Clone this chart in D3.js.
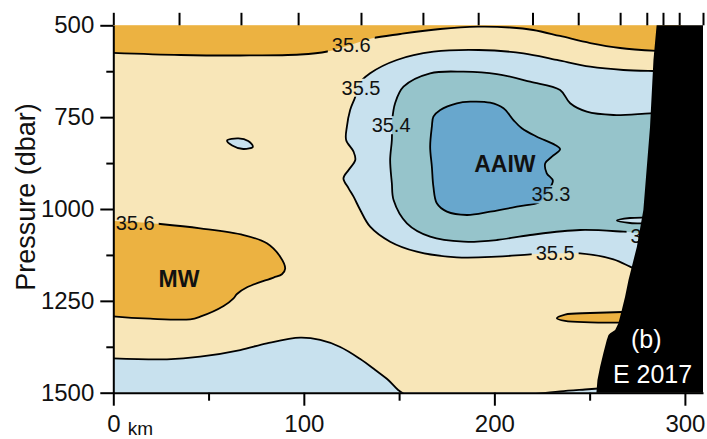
<!DOCTYPE html>
<html><head><meta charset="utf-8">
<script src="https://cdn.jsdelivr.net/npm/d3@7/dist/d3.min.js"></script>
<style>
body{margin:0;background:#fff}
text{font-family:"Liberation Sans",Arial,Helvetica,sans-serif}
</style>
</head><body>
<svg id="c" width="707" height="439"></svg>
<script>
// ---------- data (distance km, pressure dbar) ----------
const xDomain = [0, 309.5];
const pDomain = [500, 1500];
const xTicks = [0, 100, 200, 300];
const xMinorTicks = [50, 150, 250];
const pTicks = [500, 750, 1000, 1250, 1500];
const pMinorTicks = [625, 875, 1125, 1375];
const stations = [0, 34.5, 67, 97, 130, 162.5, 191.5, 220, 244, 266, 280, 288.5, 297, 309.5];
const salinityLevels = ["<35.3", "35.3-35.4", "35.4-35.5", "35.5-35.6", ">35.6"];

// isohaline 35.6 near the top
const top356 = [[-2,574.6],[35.2,580.8],[66.6,582.2],[98.1,579.5],[112.3,571.3],[124.3,553.6],[135.9,535.4],[150.6,523.7],[171.6,510.1],[191.5,503.8],[208.3,506],[220.4,512.8],[234.5,529.1],[250.3,548.2],[266,561.8],[286,570],[295,572]];
// isohaline 35.5 around the AAIW tongue
const upper355 = [[292,625],[283.5,624.4],[267.7,621.7],[250.3,612.7],[232.8,594.4],[215.3,576.2],[191.7,567.2],[168.1,571.9],[148.8,594.4],[134.8,630.6],[128.5,662.5],[127.0,694.3],[124.3,730.5],[122.6,776.0],[122.2,812.2],[126.1,844.0],[127.0,866.6],[123.5,893.8],[120.8,916.4],[123.5,943.7],[126.1,966.5],[129.6,1002.7],[134.8,1048.2],[145.3,1089.0],[159.3,1116.2],[180.3,1131.5],[201.3,1129.8],[218.8,1123.3],[231.9,1120.6],[245.0,1120.6],[262.5,1136.9],[271.2,1157.0],[279.1,1176.9],[292,1200]];
// isohaline 35.4
const upper354 = [[292,738],[281.7,739.5],[262.5,744.1],[248.5,735.2],[239.8,712.3],[234.5,676.1],[218.8,653.5],[201.3,632.6],[183.8,626.3],[166.3,630.6],[152.3,667.1],[147.9,712.3],[146.4,757.8],[146.2,812.2],[145.3,866.6],[146.2,930.0],[147.1,975.5],[154.1,1038.9],[166.3,1075.4],[183.8,1089.0],[201.3,1084.4],[218.8,1070.8],[245.0,1057.2],[267.7,1061.8],[278.2,1066.1],[292,1071]];
// isohaline 35.3 (AAIW core, closed)
const core353 = [[168.0,748.8],[171.6,730.5],[180.3,712.3],[187.3,707.9],[197.8,710.7],[204.8,725.9],[210.0,757.8],[214.4,780.3],[222.3,803.2],[231.9,825.8],[234.5,837.5],[230.2,857.6],[226.7,875.6],[227.5,902.8],[230.7,923.0],[227.7,953.7],[224.0,980.1],[211.8,993.7],[197.8,1007.3],[185.6,1016.3],[175.1,1007.3],[169.8,984.5],[168.0,939.3],[167.2,884.9],[166.3,830.4],[167.2,776.0]];
// isohaline 35.6 around the Mediterranean Water (MW)
const mw356 = [[-2,1032.6],[11.5,1035.3],[24.7,1040.8],[45.6,1052.5],[68.4,1070.8],[80.6,1093.4],[87.6,1129.8],[90.2,1162.2],[88.5,1177.7],[84.1,1186.7],[70.2,1213.1],[64.9,1231.3],[63.1,1243.1],[57.9,1264.0],[45.6,1293.1],[40.4,1300.2],[19.4,1298.6],[-2,1291.2]];
// isohaline 35.5 at the bottom left
const lower355 = [[-2,1406.4],[28.2,1409.1],[45.6,1402.0],[66.6,1383.8],[80.6,1365.5],[98.1,1350.3],[108.6,1356.5],[119.1,1375.6],[129.6,1408.3],[137.5,1438.2],[144.3,1465.4],[149.5,1492.6],[153,1505]];
// isohaline 35.5 at the bottom right
const bottomRight355 = [[221.4,1503.5],[234.5,1496.7],[247.6,1491.3],[258.1,1487.2],[265,1485]];
// small closed features
const lens356 = [[232.8,1297.5],[237.1,1287.2],[250.3,1283.1],[267.1,1280.3],[276.5,1280.3],[278,1295],[276.5,1310.3],[266.0,1309.4],[250.3,1308.4],[237.1,1304.8]];
const eddy355 = [[59.7,813.5],[65.7,807.9],[70.8,815.0],[73.3,830.4],[68.2,836.7],[62.4,827.2]];
const lens354 = [[264.3,1031.3],[271.2,1024.5],[279.1,1023.1],[285,1023],[286,1031],[285,1040],[279.1,1039.5],[271.2,1038.1]];
// sea floor (topography)
const seafloor = [[285.4,486],[283.5,594.4],[281.7,776.0],[278.2,1002.7],[274.8,1102.6],[270.4,1193.2],[268.6,1238.7],[266.9,1274.9],[265.1,1311.1],[263.4,1329.3],[260.8,1338.3],[259.9,1342.9],[259.0,1356.5],[257.2,1392.7],[255.5,1429.2],[254.1,1465.4],[253.4,1510]];

// contour labels
const contourLabels = [
  {t:"35.6", km:124.9, p:552.3},
  {t:"35.5", km:130.0, p:669.3},
  {t:"35.4", km:145.8, p:771.4},
  {t:"35.3", km:229.7, p:959.7},
  {t:"35.5", km:231.9, p:1118.4},
  {t:"35.6", km:11.5, p:1038.9},
  {t:"35.4", km:281.7, p:1073.2}
];
const waterMasses = [
  {t:"AAIW", km:205.5, p:875.6},
  {t:"MW", km:34.5, p:1189.7}
];
const panelText = [
  {t:"(b)", km:279.7, p:1379.3},
  {t:"E 2017", km:283.0, p:1474.4}
];

// ---------- drawing ----------
const colors = {blue:"#68a7cd", teal:"#96c4cb", light:"#c8e1ee", cream:"#f8e6b8", orange:"#ecb241"};
const svg = d3.select("#c");
const L = 113.3, R = 703, T = 25.3, B = 392.7;
const x = d3.scaleLinear().domain(xDomain).range([L, R]);
const y = d3.scaleLinear().domain(pDomain).range([T, B]);

const defs = svg.append("defs");
defs.append("clipPath").attr("id","plot").append("rect")
  .attr("x",L).attr("y",T).attr("width",R-L).attr("height",B-T);

const line = d3.line().x(d=>x(d[0])).y(d=>y(d[1])).curve(d3.curveCatmullRom.alpha(0.5));
const closed = d3.line().x(d=>x(d[0])).y(d=>y(d[1])).curve(d3.curveCatmullRomClosed.alpha(0.5));
const straight = d3.line().x(d=>x(d[0])).y(d=>y(d[1]));
function region(pts, closure){
  let s = line(pts);
  closure.forEach(c => { s += "L" + x(c[0]) + "," + y(c[1]); });
  return s + "Z";
}

const plot = svg.append("g").attr("clip-path","url(#plot)");
plot.append("rect").attr("x",x(xDomain[0])).attr("y",y(pDomain[0]))
  .attr("width",x(xDomain[1])-x(xDomain[0])).attr("height",y(pDomain[1])-y(pDomain[0]))
  .attr("fill",colors.cream);

const fills = plot.append("g");
fills.append("path").attr("d",region(top356,[[300,470],[-5,470]])).attr("fill",colors.orange);
fills.append("path").attr("d",region(upper355,[[305,1200],[305,625]])).attr("fill",colors.light);
fills.append("path").attr("d",region(upper354,[[305,1071],[305,738]])).attr("fill",colors.teal);
fills.append("path").attr("d",closed(core353)).attr("fill",colors.blue);
fills.append("path").attr("d",region(mw356,[[-5,1291],[-5,1032]])).attr("fill",colors.orange);
fills.append("path").attr("d",region(lower355,[[-5,1510],[-5,1406]])).attr("fill",colors.light);
fills.append("path").attr("d",region(bottomRight355,[[265,1510],[221,1510]])).attr("fill",colors.light);
fills.append("path").attr("d",closed(lens356)).attr("fill",colors.orange);
fills.append("path").attr("d",closed(eddy355)).attr("fill",colors.light);
fills.append("path").attr("d",closed(lens354)).attr("fill",colors.light);

// labels first (to measure), lines masked around them
const labG = plot.append("g");
const labs = labG.selectAll("text").data(contourLabels).join("text")
  .attr("x",d=>x(d.km)).attr("y",d=>y(d.p)).attr("dy","0.36em")
  .attr("text-anchor","middle").attr("font-size",20).attr("fill","#111").text(d=>d.t);

const mask = defs.append("mask").attr("id","gap").attr("maskUnits","userSpaceOnUse")
  .attr("x",0).attr("y",0).attr("width",707).attr("height",439);
mask.append("rect").attr("x",0).attr("y",0).attr("width",707).attr("height",439).attr("fill","#fff");
labs.each(function(){
  const b = this.getBBox();
  mask.append("rect").attr("x",b.x-4).attr("y",b.y+2).attr("width",b.width+8).attr("height",b.height-4).attr("fill","#000");
});

const lines = plot.insert("g", () => labG.node()).attr("mask","url(#gap)")
  .attr("fill","none").attr("stroke","#000").attr("stroke-width",1.8);
[top356, upper355, upper354, mw356, lower355, bottomRight355].forEach(c => lines.append("path").attr("d",line(c)));
[core353, lens356, eddy355, lens354].forEach(c => lines.append("path").attr("d",closed(c)));

plot.selectAll("text.wm").data(waterMasses).join("text").attr("class","wm")
  .attr("x",d=>x(d.km)).attr("y",d=>y(d.p)).attr("dy","0.36em")
  .attr("text-anchor","middle").attr("font-size",23).attr("font-weight","bold").attr("fill","#111").text(d=>d.t);

// sea floor
plot.append("path").attr("d", straight(seafloor.concat([[320,1510],[320,486]])) + "Z").attr("fill","#000");

plot.selectAll("text.panel").data(panelText).join("text").attr("class","panel")
  .attr("x",d=>x(d.km)).attr("y",d=>y(d.p))
  .attr("text-anchor","middle").attr("font-size",25).attr("fill","#fff").text(d=>d.t);

// ---------- axes ----------
const ax = svg.append("g");
const yAxis = ax.append("g").attr("transform",`translate(${L},0)`)
  .call(d3.axisLeft(y).tickValues(pTicks).tickFormat(d3.format("d")).tickSize(13).tickSizeOuter(0).tickPadding(6));
const yMinor = ax.append("g").attr("transform",`translate(${L},0)`)
  .call(d3.axisLeft(y).tickValues(pMinorTicks).tickSize(7).tickSizeOuter(0).tickFormat(""));
const xAxis = ax.append("g").attr("transform",`translate(0,${B})`)
  .call(d3.axisBottom(x).tickValues(xTicks).tickFormat(d3.format("d")).tickSize(13).tickSizeOuter(0).tickPadding(9));
const xMinor = ax.append("g").attr("transform",`translate(0,${B})`)
  .call(d3.axisBottom(x).tickValues(xMinorTicks).tickSize(8).tickSizeOuter(0).tickFormat(""));
const xTop = ax.append("g").attr("transform",`translate(0,${T})`)
  .call(d3.axisTop(x).tickValues(stations).tickSize(12.5).tickSizeOuter(0).tickFormat(""));
xTop.select(".domain").remove();
yMinor.select(".domain").remove();
xMinor.select(".domain").remove();
ax.selectAll(".domain").attr("stroke","#000").attr("stroke-width",2);
ax.selectAll(".tick line").attr("stroke","#000").attr("stroke-width",2);
ax.selectAll(".tick text").attr("font-size",24).attr("fill","#111").attr("font-family","'Liberation Sans',Arial,sans-serif");
// "km" unit after 0
xAxis.selectAll(".tick").filter(d=>d===0).append("text")
  .attr("x",14).attr("y",42).attr("font-size",19).attr("fill","#111").attr("text-anchor","start").text("km");

svg.append("text").attr("transform","translate(35,197) rotate(-90)")
  .attr("text-anchor","middle").attr("font-size",27).attr("fill","#111").text("Pressure (dbar)");
</script>
</body></html>
